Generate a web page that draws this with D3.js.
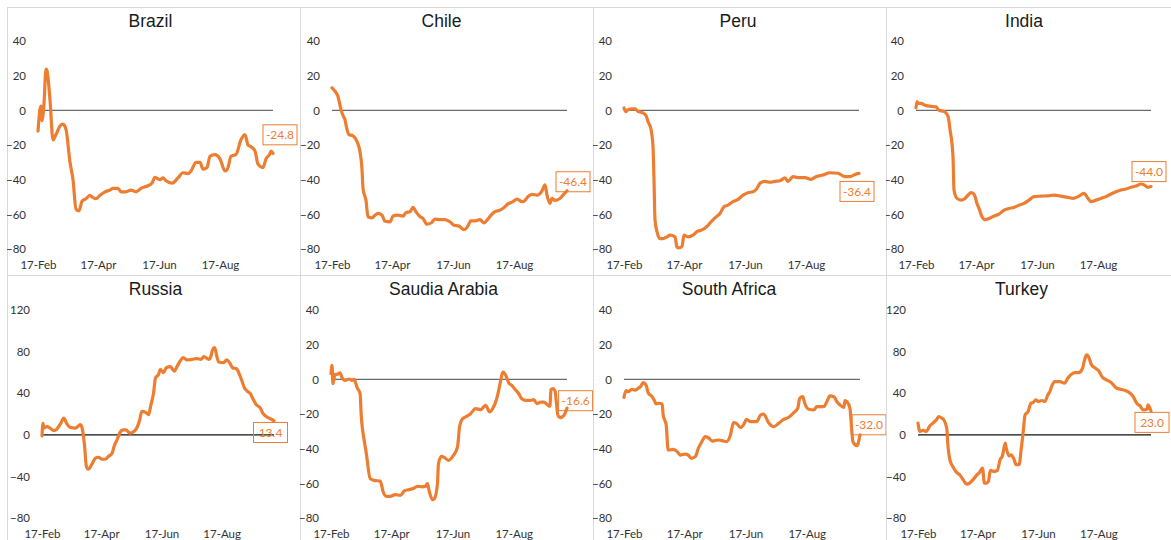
<!DOCTYPE html>
<html>
<head>
<meta charset="utf-8">
<script src="https://cdn.jsdelivr.net/npm/d3@7"></script>
<style>
  body { margin: 0; background: #fff; }
  svg { display: block; }
</style>
</head>
<body>
<svg id="chart" width="1171" height="540"></svg>
<script>
// countries, in drawing order (row by row)
var countries = ["Brazil", "Chile", "Peru", "India", "Russia", "Saudia Arabia", "South Africa", "Turkey"];

// [days since 17-Feb, value]
var brazil = [[0,-12],[2,0.6],[3,2.5],[4,-6],[6,4],[8,23.8],[9,23],[12,6],[15,-17],[18,-14],[22,-9],[25,-8],[28,-11],[32,-30],[35,-40],[38,-57],[41,-58],[44,-52.5],[48,-51],[52,-49],[54,-50],[58,-51],[62,-49],[67,-47],[72,-46],[75,-45],[80,-45],[83,-47],[88,-47],[93,-46],[98,-47],[103,-45],[110,-43.5],[114,-42],[117,-38.6],[122,-40],[125,-39],[128,-40.6],[134,-42],[140,-39],[145,-36],[150,-36.5],[153,-35],[158,-30],[162,-30],[165,-34],[169,-33],[172,-26.5],[177,-25.5],[182,-28],[187,-35],[190,-33],[193,-26.5],[198,-25.5],[203,-17],[207,-14],[210,-20],[213,-21],[217,-23.5],[220,-31],[225,-33],[228,-28],[232,-25],[233,-23.5],[235,-24.8]];
var chile = [[0,13],[3,11],[6,8],[9,0.4],[11,-3],[13,-5.4],[15,-11],[17,-14],[21,-14.7],[25,-18],[28,-24],[30,-34],[31,-45],[34,-52],[36,-61.4],[40,-62],[43,-60.5],[46,-59.5],[50,-60.5],[53,-64],[58,-64.3],[61,-61],[66,-60.5],[71,-61],[74,-59],[78,-58.5],[81,-56],[84,-58.5],[88,-61.4],[91,-62.4],[95,-65.7],[99,-65],[103,-62.8],[108,-63],[113,-63],[118,-64.3],[122,-66.3],[127,-66.8],[132,-68.8],[135,-67.6],[139,-63.8],[143,-63.8],[148,-63],[152,-65],[155,-63.4],[160,-59.9],[163,-58.5],[168,-57.6],[172,-56],[176,-54],[181,-52.7],[185,-51.2],[190,-52.7],[193,-52],[196,-49.8],[200,-48.5],[205,-48.9],[210,-46.4],[213,-43],[215,-48.9],[218,-53.7],[220,-50.8],[223,-52],[228,-50.8],[231,-48.9],[235,-46.4]];
var peru = [[0,1.4],[2,-0.8],[4,0.4],[8,0.8],[11,0.8],[14,-0.6],[19,-1.5],[22,-3],[24,-6.4],[27,-11],[29,-21],[30,-40],[31,-63],[33,-70],[36,-74],[39,-74],[43,-73],[46,-72],[51,-73],[53,-79],[55,-79.4],[58,-78.4],[60,-72],[64,-73],[69,-72],[73,-70],[78,-69],[83,-67],[86,-65],[91,-62],[96,-59.5],[100,-55.6],[104,-54.7],[109,-52.7],[114,-51.4],[119,-48.9],[124,-47.5],[129,-47],[133,-45],[136,-42],[141,-41],[146,-41.5],[151,-41],[156,-40.6],[161,-39],[164,-41],[169,-38.3],[174,-38.8],[181,-38.8],[187,-39.8],[192,-38.3],[199,-37.3],[206,-36],[214,-36.3],[221,-38.3],[226,-38.3],[231,-37],[235,-36.4]];
var india = [[0,1.4],[1,5],[2,4],[5,4],[10,2.7],[15,2.3],[20,2],[23,0],[28,-0.6],[32,-3.5],[34,-11],[37,-26.7],[38,-46],[41,-50.8],[45,-51.8],[49,-50.8],[52,-49],[55,-47.5],[58,-48.3],[61,-53.7],[63,-56.6],[66,-61.4],[69,-63],[73,-62.4],[78,-61],[83,-59.9],[88,-57.6],[93,-56.6],[98,-56],[103,-54.7],[108,-53.7],[113,-51.8],[118,-49.8],[125,-49.5],[132,-49.3],[138,-48.9],[145,-49.5],[152,-50.2],[157,-50.8],[162,-49.8],[168,-47.9],[172,-50.8],[175,-52.7],[180,-51.8],[185,-50.8],[190,-49.8],[195,-48.3],[200,-47],[205,-46],[210,-45.4],[215,-44.4],[220,-43.7],[225,-42.5],[228,-43],[232,-44.4],[235,-44]];
var russia = [[0,-1],[1,11],[2,6.5],[5,8],[8,6.5],[12,4],[15,5.5],[19,11],[22,16],[25,11],[29,7],[34,6.5],[37,8.7],[39,9.7],[41,5],[43,-9.7],[45,-30.6],[47,-33],[51,-27.4],[54,-22.6],[57,-21.6],[61,-23.5],[64,-23.5],[67,-21],[71,-17.7],[73,-11.3],[76,-4.8],[79,2.3],[82,4.8],[85,4.8],[89,1.6],[93,3.2],[96,6.5],[99,14.5],[101,22.6],[105,21.6],[108,19.4],[110,27.4],[113,40.3],[115,54.8],[118,58],[120,63],[123,59.7],[126,64.5],[130,65.5],[134,61.3],[137,66],[140,71],[143,74.2],[147,72],[152,72.6],[157,73.2],[161,72.6],[164,75.2],[169,72.6],[171,75.2],[173,82.3],[175,83.9],[177,75.8],[179,70],[184,69.4],[187,72],[190,69.4],[193,64.5],[197,63.5],[200,58],[202,53.2],[205,45.2],[208,41.9],[211,39.7],[214,33.9],[217,29],[221,25.8],[224,20.3],[228,17],[232,15.2],[235,13.4]];
var saudi = [[0,3.3],[1,8],[2,-2.5],[4,2.9],[6,2.9],[9,3.7],[11,1],[14,-0.6],[18,0.2],[21,-0.6],[23,0],[26,-4.8],[29,-8.3],[30,-19.8],[33,-35],[35,-42],[39,-57.3],[43,-58.3],[49,-58.7],[52,-65],[55,-67.5],[59,-67.5],[64,-66.5],[69,-67],[73,-64.4],[77,-63.7],[82,-63],[86,-61.7],[91,-62],[94,-61.7],[96,-60.2],[98,-65],[101,-69.4],[103,-68.8],[106,-60.2],[107,-48.7],[110,-44.4],[113,-45.2],[117,-46.7],[122,-43.8],[126,-39],[128,-27.5],[131,-22.7],[134,-21.7],[139,-19.8],[144,-16.9],[149,-17.5],[154,-15],[158,-18.8],[161,-16.9],[165,-11.2],[167,-6.3],[169,-0.6],[171,4.2],[174,2.3],[177,-2.1],[180,-3.5],[184,-6.3],[187,-8.3],[190,-11.2],[194,-12.1],[199,-12.1],[202,-11.7],[205,-14],[209,-13.1],[212,-13.1],[215,-14.4],[218,-15.6],[219,-6],[221,-5.4],[223,-6.7],[226,-20.8],[228,-22.1],[232,-20.8],[235,-16.6]];
var southAfrica = [[0,-10.4],[2,-6.5],[4,-7.1],[8,-5.8],[11,-6.2],[14,-5.2],[17,-3.8],[19,-1.9],[22,-3.3],[24,-7.7],[28,-10],[30,-11.9],[32,-14.2],[35,-13.8],[38,-14.2],[39,-20.6],[42,-26.3],[44,-40.8],[49,-40.4],[53,-41.7],[56,-43.7],[61,-43.1],[64,-43.7],[67,-45.6],[71,-44.6],[74,-39.8],[77,-36.5],[81,-33],[84,-33.7],[88,-35.6],[94,-35],[99,-35.6],[102,-36],[106,-32.1],[109,-25],[112,-25.4],[116,-27.9],[119,-26.3],[122,-23.1],[126,-24.4],[132,-24.4],[136,-20.6],[139,-20],[144,-25],[149,-27.3],[154,-25.4],[159,-23.1],[164,-21.9],[169,-19.2],[173,-16.7],[175,-11],[178,-10],[180,-13.8],[184,-17.3],[189,-17.7],[192,-15.8],[199,-15.8],[202,-12.9],[205,-9.6],[209,-10],[212,-12.9],[215,-14.8],[219,-16.2],[220,-12.3],[222,-12.9],[225,-16.7],[227,-31.2],[228,-36],[232,-38.3],[235,-32]];
var turkey = [[0,11.2],[2,3.2],[5,4.2],[8,3.2],[12,8.6],[15,11.2],[19,15],[21,17.6],[24,16],[26,14.4],[29,6.4],[30,-8],[32,-23.4],[35,-30.4],[39,-36.2],[42,-38.4],[46,-43.8],[49,-47.4],[52,-46.4],[56,-42.6],[59,-39],[62,-36.2],[65,-32],[67,-46.4],[69,-46.4],[71,-44.8],[73,-34.2],[77,-35.2],[80,-34.2],[83,-23.4],[85,-20.8],[88,-8],[89,-12.8],[92,-20.2],[94,-19.2],[97,-24],[99,-28.8],[102,-28.8],[104,-14.4],[106,1.6],[108,19.2],[111,22.4],[114,30.4],[116,31],[119,33.6],[121,32],[125,33],[128,32],[131,38.4],[133,41.6],[135,47],[138,51.2],[143,51.2],[148,49.6],[151,54.4],[154,57.6],[158,59.8],[162,59.8],[166,64],[168,72],[170,76.8],[172,75.2],[175,67.2],[179,64],[182,61.8],[186,55.4],[190,52.8],[195,50.2],[199,45.8],[204,43.8],[209,42.6],[214,40],[217,36.8],[221,29.8],[224,27.8],[227,24],[231,24.6],[232,28.8],[235,23]];

var series = [brazil, chile, peru, india, russia, saudi, southAfrica, turkey];

// y tick values
var ticksSmall = [-80, -60, -40, -20, 0, 20, 40];
var ticksWide = [-80, -40, 0, 40, 80, 120];
var yTicks = [ticksSmall, ticksSmall, ticksSmall, ticksSmall, ticksWide, ticksSmall, ticksSmall, ticksWide];

// x tick labels (dates)
var tickLabels = ["17-Feb", "17-Apr", "17-Jun", "17-Aug"];

// ---- layout ----
var colLeft = [7, 300, 593, 886], rowTop = [7, 275];
var panelW = 293, panelH = 268;
var plotX = [[38,273],[332,567],[624,859],[916,1151],[42,274],[331,567],[624,860],[918,1151]];
var plotY = [[41,249],[310,518]];
var titleX = [150.5, 441.5, 738, 1024, 155.5, 443.5, 729, 1021.5];
var labelOff = [[7,-18.5],[6,-9],[-2,18],[-2,-15],[-3.5,11.6],[8.6,-7.4],[9,-10],[1,11.5]];
var axisCol = ["#6b6b6b","#6b6b6b","#6b6b6b","#6b6b6b","#111","#6b6b6b","#6b6b6b","#111"];

var orange = "#ED7D31";
var parseD = d3.timeParse("%d-%b-%Y");
var start = parseD("17-Feb-2020");
var end = d3.timeDay.offset(start, 235);
var tickDates = tickLabels.map(function(t){ return parseD(t + "-2020"); });

var svg = d3.select("#chart");

countries.forEach(function(name, i){
    var row = Math.floor(i / 4), col = i % 4;
    var g = svg.append("g");

    var clipId = "clip" + i;
    svg.append("clipPath").attr("id", clipId)
        .append("rect")
        .attr("x", colLeft[col]).attr("y", rowTop[row])
        .attr("width", panelW).attr("height", panelH);
    g.attr("clip-path", "url(#" + clipId + ")");

    // panel frame
    g.append("rect")
        .attr("x", colLeft[col] + 0.5).attr("y", rowTop[row] + 0.5)
        .attr("width", panelW).attr("height", panelH)
        .attr("fill", "#fff").attr("stroke", "#d9d9d9");

    var yd = yTicks[i];
    var x = d3.scaleTime().domain([start, end]).range(plotX[i]);
    var y = d3.scaleLinear().domain([yd[0], yd[yd.length - 1]]).range([plotY[row][1], plotY[row][0]]);

    // title
    g.append("text")
        .attr("x", titleX[i]).attr("y", rowTop[row] + 20)
        .attr("text-anchor", "middle")
        .style("font-family", "'Liberation Sans', Arial, sans-serif")
        .style("font-size", "17.5px")
        .attr("fill", "#1a1a1a")
        .text(name);

    // y axis labels
    var ya = d3.axisLeft(y).tickValues(yd).tickSize(0).tickPadding(12);
    g.append("g").attr("transform", "translate(" + plotX[i][0] + ",0)")
        .call(ya)
        .call(function(a){ a.select(".domain").remove(); })
        .selectAll("text")
        .style("font-family", "Lato, 'Open Sans', sans-serif")
        .style("font-size", "11.5px")
        .attr("fill", "#333");

    // x axis labels
    var xa = d3.axisBottom(x).tickValues(tickDates).tickSize(0).tickPadding(12)
        .tickFormat(d3.timeFormat("%d-%b"));
    g.append("g").attr("transform", "translate(0," + plotY[row][1] + ")")
        .call(xa)
        .call(function(a){ a.select(".domain").remove(); })
        .selectAll("text")
        .style("font-family", "Lato, 'Open Sans', sans-serif")
        .style("font-size", "11.5px")
        .attr("fill", "#333");

    // zero line
    g.append("line")
        .attr("x1", x(start)).attr("x2", x(end))
        .attr("y1", y(0)).attr("y2", y(0))
        .attr("stroke", axisCol[i]).attr("stroke-width", 1.2);

    var data = series[i];
    var line = d3.line()
        .x(function(d){ return x(d3.timeDay.offset(start, d[0])); })
        .y(function(d){ return y(d[1]); })
        .curve(d3.curveMonotoneX);

    g.append("path")
        .datum(data)
        .attr("d", line)
        .attr("fill", "none")
        .attr("stroke", orange)
        .attr("stroke-width", 3.2)
        .attr("stroke-linejoin", "round")
        .attr("stroke-linecap", "round");

    // end value label
    var last = data[data.length - 1];
    var cx = x(d3.timeDay.offset(start, last[0])) + labelOff[i][0];
    var cy = y(last[1]) + labelOff[i][1];
    g.append("rect")
        .attr("x", cx - 17).attr("y", cy - 10)
        .attr("width", 34).attr("height", 20)
        .attr("fill", "none").attr("stroke", orange).attr("stroke-width", 1);
    g.append("text")
        .attr("x", cx).attr("y", cy)
        .attr("dy", "0.35em")
        .attr("text-anchor", "middle")
        .style("font-family", "Lato, 'Open Sans', sans-serif")
        .style("font-size", "12px")
        .attr("fill", orange)
        .text(last[1].toFixed(1));
});
</script>
</body>
</html>
